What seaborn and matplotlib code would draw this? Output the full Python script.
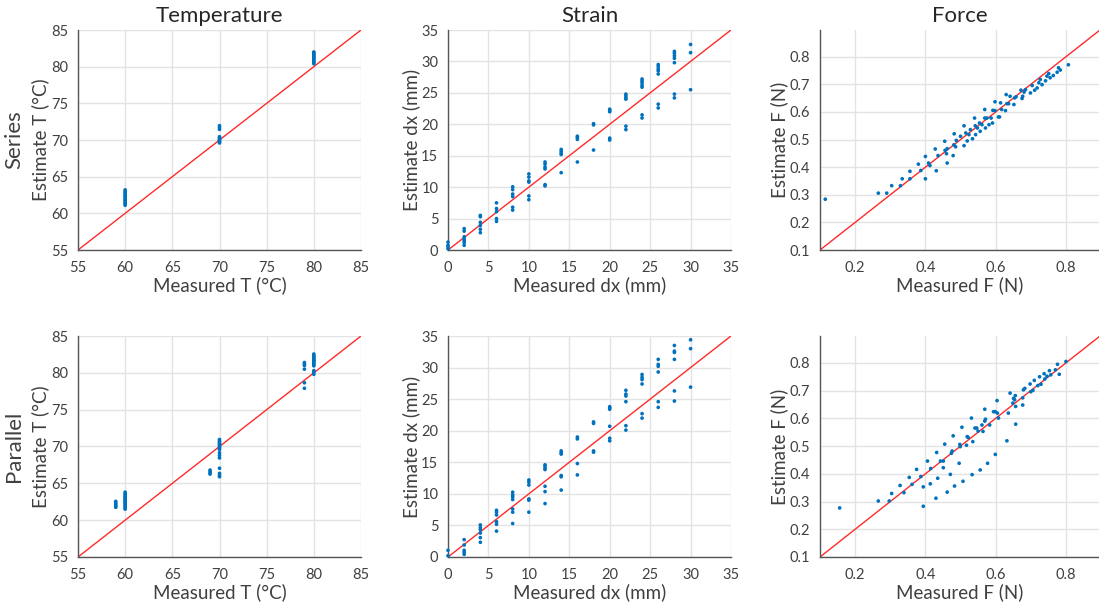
import numpy as np
import pandas as pd
import matplotlib
matplotlib.use("Agg")
import matplotlib.pyplot as plt
import seaborn as sns

# ---------------- data ----------------
# Temperature, series
temp_s_meas = [60]*14 + [70]*10 + [80]*12
temp_s_est = [61.1, 61.25, 61.4, 61.55, 61.7, 61.85, 62.0, 62.2, 62.35, 62.5, 62.7, 62.85, 63.0, 63.2,
              69.6, 69.75, 69.9, 70.0, 70.15, 70.3, 70.45, 71.45, 71.7, 71.95,
              80.4, 80.55, 80.7, 80.85, 81.0, 81.15, 81.3, 81.45, 81.6, 81.75, 81.9, 82.0]
# Temperature, parallel
temp_p_meas = [59]*6 + [60]*16 + [69]*4 + [70]*16 + [79]*6 + [80]*14
temp_p_est = [61.75, 61.9, 62.05, 62.2, 62.4, 62.55,
              61.5, 61.65, 61.8, 61.95, 62.1, 62.25, 62.4, 62.55, 62.7, 62.85, 63.0, 63.15, 63.3, 63.45, 63.6, 63.8,
              66.25, 66.4, 66.6, 66.8,
              69.6, 69.8, 70.0, 70.15, 70.3, 70.45, 70.6, 70.75, 70.95, 69.15, 68.8, 68.45, 67.05, 66.35, 66.1, 65.9,
              81.0, 81.2, 81.4, 80.5, 78.65, 77.9,
              79.8, 80.1, 80.3, 80.95, 81.1, 81.3, 81.45, 81.6, 81.75, 81.9, 82.05, 82.2, 82.35, 82.55]

# Strain, series
strain_s_meas = ([0]*4 + [2]*7 + [4]*6 + [6]*5 + [8]*6 + [10]*6 + [12]*6 + [14]*5 + [16]*4 + [18]*3 +
                 [20]*5 + [22]*6 + [24]*7 + [26]*7 + [28]*7 + [30]*3)
strain_s_est = [0.2, 0.5, 0.75, 1.25,
                3.4, 3.0, 2.1, 1.8, 1.5, 1.2, 0.75,
                5.5, 5.3, 4.4, 3.9, 3.3, 2.75,
                7.5, 6.6, 6.1, 5.0, 4.55,
                10.05, 9.6, 8.9, 8.5, 6.8, 6.35,
                12.1, 11.6, 11.0, 10.8, 8.6, 8.0,
                14.0, 13.65, 13.2, 12.9, 10.4, 10.2,
                16.0, 15.7, 15.4, 15.2, 12.3,
                18.1, 17.9, 17.6, 14.0,
                20.1, 19.9, 15.9,
                22.4, 22.2, 22.0, 17.8, 17.5,
                24.8, 24.5, 24.2, 24.0, 19.7, 19.15,
                27.2, 26.9, 26.6, 26.2, 25.9, 21.5, 21.0,
                29.5, 29.2, 28.8, 28.5, 28.0, 23.2, 22.6,
                31.6, 31.3, 30.9, 30.5, 29.8, 24.8, 24.2,
                32.7, 31.4, 25.5]
# Strain, parallel
strain_p_meas = ([0]*2 + [2]*5 + [4]*6 + [6]*6 + [8]*7 + [10]*6 + [12]*7 + [14]*6 + [16]*4 + [18]*4 +
                 [20]*6 + [22]*6 + [24]*6 + [26]*6 + [28]*6 + [30]*3)
strain_p_est = [1.06, 0.2,
                2.75, 1.9, 1.06, 0.74, 0.42,
                5.08, 4.65, 4.34, 3.8, 3.07, 2.33,
                7.4, 7.1, 6.66, 5.6, 5.18, 4.1,
                10.26, 9.84, 9.52, 9.1, 7.6, 7.1, 5.3,
                12.2, 11.85, 11.4, 9.2, 9.0, 7.1,
                14.6, 14.4, 14.07, 13.85, 11.2, 10.36, 8.46,
                16.8, 16.5, 16.3, 12.9, 12.7, 10.6,
                19.0, 18.7, 14.8, 13.0,
                21.4, 21.15, 16.8, 16.6,
                23.8, 23.6, 23.4, 20.7, 18.8, 18.4,
                26.4, 25.8, 25.5, 24.6, 20.8, 20.1,
                28.9, 28.45, 28.1, 27.4, 22.7, 22.0,
                31.3, 30.5, 30.2, 29.3, 24.6, 23.7,
                33.5, 32.6, 32.4, 31.3, 26.3, 24.7,
                34.4, 33.0, 26.9]

# Force, series
force_s_meas = [0.115, 0.266, 0.290, 0.304, 0.329, 0.334, 0.356, 0.356, 0.380, 0.387, 0.400, 0.400, 0.409,
                0.413, 0.428, 0.431, 0.436, 0.455, 0.456, 0.460, 0.462, 0.462, 0.479, 0.482, 0.481, 0.486,
                0.488, 0.500, 0.510, 0.510, 0.515, 0.519, 0.524, 0.528, 0.534, 0.540, 0.542, 0.543, 0.548,
                0.554, 0.556, 0.561, 0.569, 0.569, 0.571, 0.575, 0.581, 0.587, 0.591, 0.592, 0.598, 0.598,
                0.608, 0.611, 0.614, 0.617, 0.630, 0.628, 0.632, 0.637, 0.641, 0.652, 0.658, 0.654, 0.672,
                0.675, 0.677, 0.681, 0.685, 0.699, 0.704, 0.711, 0.718, 0.723, 0.727, 0.732, 0.742, 0.746,
                0.751, 0.755, 0.764, 0.775, 0.779, 0.784, 0.807]
force_s_est = [0.284, 0.306, 0.306, 0.333, 0.333, 0.358, 0.385, 0.358, 0.411, 0.388, 0.358, 0.439, 0.415,
               0.406, 0.466, 0.387, 0.442, 0.494, 0.461, 0.449, 0.415, 0.467, 0.442, 0.521, 0.481, 0.474,
               0.497, 0.512, 0.550, 0.478, 0.524, 0.495, 0.518, 0.536, 0.503, 0.578, 0.550, 0.518, 0.542,
               0.560, 0.530, 0.554, 0.609, 0.578, 0.542, 0.578, 0.554, 0.578, 0.560, 0.606, 0.605, 0.637,
               0.582, 0.582, 0.633, 0.609, 0.663, 0.605, 0.630, 0.630, 0.657, 0.627, 0.655, 0.651, 0.679,
               0.649, 0.657, 0.672, 0.681, 0.669, 0.696, 0.679, 0.687, 0.706, 0.718, 0.699, 0.713, 0.730,
               0.739, 0.724, 0.732, 0.744, 0.760, 0.752, 0.771]
# Force, parallel
force_p_meas = [0.156, 0.266, 0.297, 0.304, 0.328, 0.339, 0.354, 0.362, 0.375, 0.387, 0.394, 0.394, 0.406,
                0.415, 0.414, 0.430, 0.432, 0.435, 0.443, 0.451, 0.451, 0.455, 0.462, 0.471, 0.474, 0.476,
                0.479, 0.483, 0.496, 0.498, 0.499, 0.504, 0.507, 0.517, 0.519, 0.522, 0.531, 0.533, 0.535,
                0.541, 0.546, 0.550, 0.556, 0.561, 0.564, 0.569, 0.569, 0.571, 0.577, 0.583, 0.594, 0.599,
                0.599, 0.604, 0.605, 0.608, 0.632, 0.636, 0.641, 0.649, 0.651, 0.654, 0.656, 0.657, 0.657,
                0.677, 0.677, 0.679, 0.683, 0.698, 0.700, 0.706, 0.710, 0.720, 0.725, 0.729, 0.738, 0.740,
                0.746, 0.753, 0.757, 0.770, 0.776, 0.781, 0.800]
force_p_est = [0.277, 0.302, 0.302, 0.329, 0.358, 0.332, 0.387, 0.362, 0.416, 0.390, 0.353, 0.283, 0.446,
               0.419, 0.364, 0.312, 0.477, 0.384, 0.446, 0.446, 0.422, 0.507, 0.334, 0.398, 0.474, 0.482,
               0.537, 0.356, 0.438, 0.506, 0.498, 0.568, 0.373, 0.503, 0.534, 0.531, 0.601, 0.397, 0.516,
               0.565, 0.565, 0.554, 0.414, 0.576, 0.553, 0.633, 0.590, 0.597, 0.438, 0.576, 0.624, 0.624,
               0.470, 0.664, 0.619, 0.601, 0.519, 0.619, 0.691, 0.655, 0.672, 0.667, 0.682, 0.643, 0.579,
               0.674, 0.648, 0.703, 0.708, 0.724, 0.696, 0.701, 0.737, 0.718, 0.750, 0.723, 0.761, 0.742,
               0.752, 0.772, 0.757, 0.775, 0.795, 0.759, 0.805]

col_titles = ["Temperature", "Strain", "Force"]
row_labels = ["Series", "Parallel"]
x_labels = ["Measured T (°C)", "Measured dx (mm)", "Measured F (N)"]
y_labels = ["Estimate T (°C)", "Estimate dx (mm)", "Estimate F (N)"]
limits = [(55, 85), (0, 35), (0.1, 0.897)]
x_ticks = [[55, 60, 65, 70, 75, 80, 85], [0, 5, 10, 15, 20, 25, 30, 35], [0.2, 0.4, 0.6, 0.8]]
y_ticks = [[55, 60, 65, 70, 75, 80, 85], [0, 5, 10, 15, 20, 25, 30, 35],
           [0.1, 0.2, 0.3, 0.4, 0.5, 0.6, 0.7, 0.8]]
identity = [(55, 85), (0, 35), (0.1, 1.0)]

data = [[(temp_s_meas, temp_s_est), (strain_s_meas, strain_s_est), (force_s_meas, force_s_est)],
        [(temp_p_meas, temp_p_est), (strain_p_meas, strain_p_est), (force_p_meas, force_p_est)]]

# ---------------- style ----------------
sns.set_style("white")
plt.rcParams['font.family'] = ['Lato', 'DejaVu Sans']
TXT = "#404040"
BLUE = "#0072BD"

fig = plt.figure(figsize=(10.99, 6.10), dpi=100)
W, H = 1099, 610
lefts = [78, 448, 820]
widths = [283, 283, 280]
tops = [30, 336]
heights = [220, 221]

for r in range(2):
    for c in range(3):
        ax = fig.add_axes([lefts[c] / W, 1 - (tops[r] + heights[r]) / H, widths[c] / W, heights[r] / H])
        mx, est = data[r][c]
        df = pd.DataFrame({"measured": mx, "estimate": est})
        lo, hi = limits[c]
        ax.set_xlim(lo, hi)
        ax.set_ylim(lo, hi)
        ax.set_xticks(x_ticks[c])
        ax.set_yticks(y_ticks[c])
        if c == 2:
            ax.set_xticklabels(["0.2", "0.4", "0.6", "0.8"])
            ax.set_yticklabels(["0.1", "0.2", "0.3", "0.4", "0.5", "0.6", "0.7", "0.8"])
        ax.grid(True, color="#e3e3e3", linewidth=1.0)
        ax.set_axisbelow(True)
        ax.plot(identity[c], identity[c], color="#ff2a2a", linewidth=1.0, zorder=2)
        sns.scatterplot(data=df, x="measured", y="estimate", ax=ax, color=BLUE, s=7,
                        linewidth=0, edgecolor="none", zorder=3, clip_on=False)
        for s in ["top", "right"]:
            ax.spines[s].set_visible(False)
        for s in ["left", "bottom"]:
            ax.spines[s].set_color("#555555")
            ax.spines[s].set_linewidth(1.0)
        ax.tick_params(axis="both", direction="in", length=3, width=0.8, color="#555555",
                       labelsize=10.5, labelcolor=TXT)
        ax.tick_params(axis="x", pad=8)
        ax.tick_params(axis="y", pad=7)
        ax.set_xlabel(x_labels[c], fontsize=13.5, color=TXT, labelpad=1)
        ax.set_ylabel(y_labels[c], fontsize=13.5, color=TXT, labelpad=1)
        if r == 0:
            ax.set_title(col_titles[c], fontsize=16, color="#262626", pad=6)

for r in range(2):
    yc = 1 - (tops[r] + heights[r] / 2) / H
    fig.text(14 / W, yc, row_labels[r], rotation=90, fontsize=16, color=TXT,
             ha="center", va="center")

fig.savefig("out.png", dpi=100)
